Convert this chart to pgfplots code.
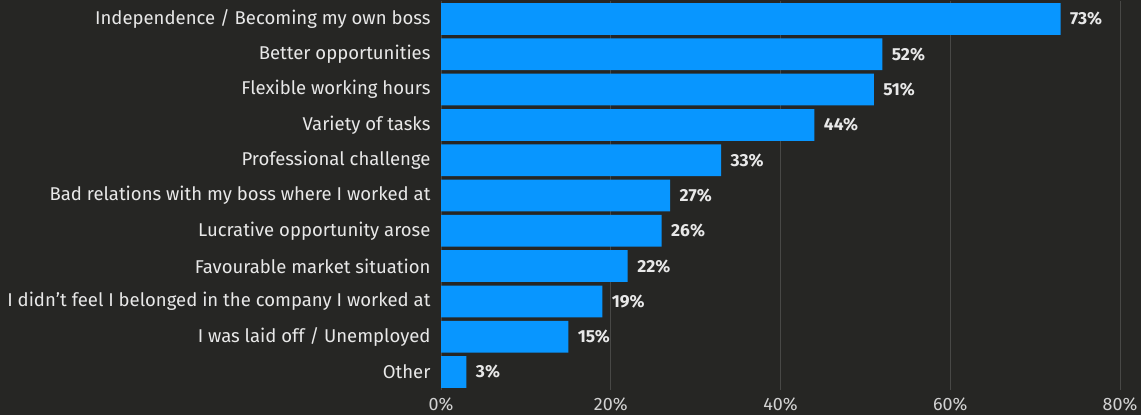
\documentclass[border=0pt]{standalone}
\usepackage{pgfplots}
\pgfplotsset{compat=1.18}
\usepackage{fontspec}
\setmainfont{Fira Sans}
\definecolor{bg}{RGB}{38,38,36}
\definecolor{barblue}{RGB}{8,150,255}
\definecolor{lbl}{RGB}{232,232,232}
\definecolor{tickc}{RGB}{210,210,210}
\definecolor{gridc}{RGB}{72,72,70}
\begin{document}
\begin{tikzpicture}[x=1bp,y=1bp]
\fill[bg] (0,0) rectangle (1141,415);
\useasboundingbox (0,0) rectangle (1141,415);
\begin{axis}[
  at={(441bp,25.35bp)}, anchor=south west,
  scale only axis, width=679bp, height=388.3bp,
  xbar, bar width=0.9, bar shift=0pt,
  xmin=0, xmax=80, ymin=-0.5, ymax=10.5, y dir=reverse,
  axis line style={draw=none},
  major tick length=0pt,
  xtick={0,20,40,60,80},
  xticklabel={\pgfmathprintnumber{\tick}\%},
  /pgf/number format/assume math mode=true,
  xticklabel style={font=\fontsize{18}{20}\selectfont, text=tickc, yshift=-4.5bp},
  ytick={0,...,10},
  yticklabels={Independence / Becoming my own boss, Better opportunities, Flexible working hours, Variety of tasks, Professional challenge, Bad relations with my boss where I worked at, Lucrative opportunity arose, Favourable market situation, I didn't feel I belonged in the company I worked at, I was laid off / Unemployed, Other},
  yticklabel style={font=\fontsize{18.6}{20}\selectfont, text=lbl, xshift=-7bp},
  xmajorgrids, grid style={gridc, line width=0.8pt},
  nodes near coords={\pgfmathprintnumber{\pgfplotspointmeta}\%},
  nodes near coords style={font=\fontsize{17.5}{20}\selectfont\bfseries, text=lbl, anchor=west, xshift=6bp},
]
\addplot[fill=barblue, draw=none] coordinates {
(73,0) (52,1) (51,2) (44,3) (33,4) (27,5) (26,6) (22,7) (19,8) (15,9) (3,10)
};
\end{axis}
\end{tikzpicture}
\end{document}
